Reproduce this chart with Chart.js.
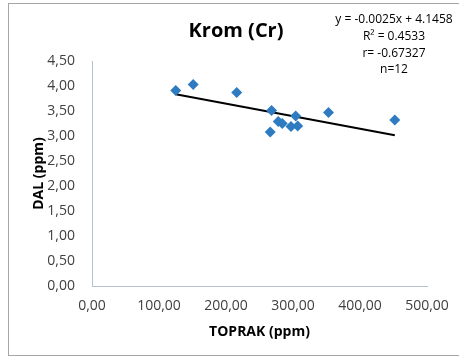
<!DOCTYPE html>
<html>
<head>
<meta charset="utf-8">
<script src="https://cdn.jsdelivr.net/npm/chart.js@4"></script>
<style>
  html, body { margin:0; padding:0; background:#fff; }
  #wrap { width:459px; height:356px; }
</style>
</head>
<body>
<div id="wrap"><canvas id="kromChart" width="459" height="356"></canvas></div>
<script>

// =====================================
// DATA
// =====================================

const toprak =
  [125, 151, 216, 268, 266, 278, 284, 297, 304, 307, 353, 452];

const dal =
  [3.91, 4.03, 3.87, 3.51, 3.08, 3.29, 3.25, 3.19, 3.40, 3.20, 3.47, 3.32];

const slope = -0.0025;
const intercept = 4.1458;

const statLines = [
  "y = -0.0025x + 4.1458",
  "R² = 0.4533",
  "r= -0.67327",
  "n=12"
];

const chartTitle = "Krom (Cr)";
const xTitle = "TOPRAK (ppm)";
const yTitle = "DAL (ppm)";

// trend line from the equation shown on the chart
const xMin = Math.min(...toprak);
const xMax = Math.max(...toprak);
const trend = [
  { x:xMin, y:slope*xMin + intercept },
  { x:xMax, y:slope*xMax + intercept }
];

const fmt = v => v.toFixed(2).replace(".", ",");

// =====================================
// TEXT + FRAME PLUGIN
// =====================================

const decor = {
  id:"decor",
  beforeDraw(chart){
    const c = chart.ctx;
    c.save();
    c.fillStyle = "#fff";
    c.fillRect(0, 0, chart.width, chart.height);
    c.strokeStyle = "#a6a6a6";
    c.lineWidth = 1;
    c.strokeRect(8.5, 3.5, chart.width, chart.height - 4);
    c.restore();
  },
  afterDraw(chart){
    const c = chart.ctx;
    c.save();
    c.fillStyle = "#000";
    c.textAlign = "center";
    c.textBaseline = "alphabetic";
    c.font = "bold 20px 'Open Sans'";
    c.fillText(chartTitle, 236, 37);

    // regression box
    c.font = "12px 'Open Sans'";
    c.textBaseline = "middle";
    const ys = [20, 37, 54, 70];
    statLines.forEach((t, i) => c.fillText(t, 394, ys[i]));
    c.restore();
  }
};

// =====================================
// CHART
// =====================================

const tickFont = { family:"'Open Sans'", size:14 };
const titleFont = { family:"'Open Sans'", size:14, weight:"bold" };

new Chart(document.getElementById("kromChart"), {
  type:"scatter",
  data:{
    datasets:[
      {
        label:"Cr",
        data:toprak.map((x, i) => ({ x, y:dal[i] })),
        pointStyle:"rectRot",
        pointRadius:5.5,
        pointHoverRadius:5.5,
        backgroundColor:"#2f7bc1",
        borderColor:"#2f7bc1",
        borderWidth:0
      },
      {
        type:"line",
        label:"trend",
        data:trend,
        borderColor:"#000",
        borderWidth:2,
        pointRadius:0,
        fill:false
      }
    ]
  },
  options:{
    responsive:false,
    animation:false,
    layout:{ padding:{ top:61, right:32, left:0, bottom:0 } },
    plugins:{
      legend:{ display:false },
      tooltip:{ enabled:false }
    },
    scales:{
      x:{
        min:0,
        max:500,
        afterFit(s){ s.height = 70; },
        ticks:{
          stepSize:100,
          font:tickFont,
          color:"#404040",
          padding:7,
          maxRotation:0,
          callback:v => fmt(v)
        },
        grid:{ display:false, drawOnChartArea:false, drawTicks:true, tickLength:5, color:"#b4c2cf" },
        border:{ color:"#b4c2cf" },
        title:{ display:true, text:xTitle, font:titleFont, color:"#000", padding:{ top:0, bottom:15.6 } }
      },
      y:{
        min:0,
        max:4.5,
        afterFit(s){ s.width = 92; },
        ticks:{
          stepSize:0.5,
          font:tickFont,
          color:"#404040",
          padding:11,
          callback:v => fmt(v)
        },
        grid:{ display:false, drawOnChartArea:false, drawTicks:true, tickLength:6, color:"#b4c2cf" },
        border:{ color:"#b4c2cf" },
        title:{ display:true, text:yTitle, font:titleFont, color:"#000", padding:{ top:30.6, bottom:0 } }
      }
    }
  },
  plugins:[decor]
});

</script>
</body>
</html>
